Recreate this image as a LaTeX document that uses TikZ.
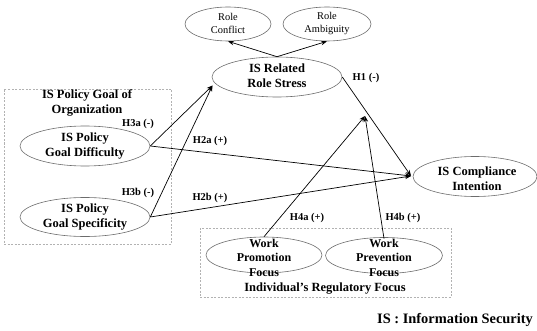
\documentclass[tikz,border=0pt]{standalone}
\usepackage{fontspec}
\setmainfont{Liberation Serif}
\usetikzlibrary{shapes.geometric,arrows.meta}
\begin{document}
\begin{tikzpicture}[x=1pt,y=-1pt,
  ell/.style={draw=gray!85!black,line width=0.6pt,ellipse,inner sep=0pt},
  txt/.style={align=center,inner sep=0pt,font=\fontsize{12.5}{15}\selectfont\bfseries},
  smalltxt/.style={align=center,inner sep=0pt,font=\fontsize{10.4}{12.7}\selectfont},
  lbl/.style={inner sep=0pt,font=\fontsize{10.5}{12}\selectfont\bfseries},
  arr/.style={-{Stealth[length=6pt,width=4.5pt]},line width=0.7pt},
  grp/.style={draw=gray!60,line width=0.6pt,dash pattern=on 2pt off 1.5pt}]
\useasboundingbox (0,0) rectangle (537,331);
% groups
\node[grp,minimum width=167pt,minimum height=155pt,inner sep=0pt] (g1) at (87.5,166.5) {};
\node[grp,minimum width=251pt,minimum height=69pt,inner sep=0pt] (g2) at (325.5,262.5) {};
\node[txt] (g1t) at (87,103) {IS Policy Goal of\\Organization};
\node[txt] (g2t) at (325,289) {Individual's Regulatory Focus};
% ellipses
\node[ell,minimum width=86pt,minimum height=34pt] (rc) at (228,24) {};
\node[smalltxt] (rct) at (228,23.5) {Role\\Conflict};
\node[ell,minimum width=88pt,minimum height=34pt] (ra) at (327,24) {};
\node[smalltxt] (rat) at (327,23.5) {Role\\Ambiguity};
\node[ell,minimum width=130pt,minimum height=40pt] (rs) at (277,77) {};
\node[txt] (rst) at (277,76) {IS Related\\Role Stress};
\node[ell,minimum width=130pt,minimum height=40pt] (gd) at (85,146) {};
\node[txt] (gdt) at (85,146) {IS Policy\\Goal Difficulty};
\node[ell,minimum width=130pt,minimum height=39pt] (gs) at (85,217) {};
\node[txt] (gst) at (85,217.5) {IS Policy\\Goal Specificity};
\node[ell,minimum width=124pt,minimum height=40pt] (ci) at (475,176.5) {};
\node[txt] (cit) at (477,178.5) {IS Compliance\\Intention};
\node[ell,minimum width=116pt,minimum height=36pt] (wp) at (264,255) {};
\node[txt,font=\fontsize{12}{14.5}\selectfont\bfseries] (wpt) at (264,257.5) {Work\\Promotion\\Focus};
\node[ell,minimum width=117pt,minimum height=36pt] (wv) at (384,255.5) {};
\node[txt,font=\fontsize{12}{14.5}\selectfont\bfseries] (wvt) at (384,257.5) {Work\\Prevention\\Focus};
\node[font=\fontsize{14.4}{16}\selectfont\bfseries,inner sep=0pt] (leg) at (455,320) {IS : Information Security};
% labels
\node[lbl] (l3a) at (138,124) {H3a (-)};
\node[lbl] (l2a) at (210,141) {H2a (+)};
\node[lbl] (l3b) at (138,193) {H3b (-)};
\node[lbl] (l2b) at (210,198) {H2b (+)};
\node[lbl] (l1) at (366,78) {H1 (-)};
\node[lbl] (l4a) at (307,218) {H4a (+)};
\node[lbl] (l4b) at (403,218) {H4b (+)};
% connectors
\coordinate (rsin) at (212.5,85.5);
\coordinate (ciin) at (411,176);
\coordinate (mod) at (365,116);
\draw[arr] (rs.north) -- (rc.south);
\draw[arr] (rs.north) -- (ra.south);
\draw[arr] (gd.east) -- (rsin);
\draw[arr] (gs.east) -- (rsin);
\draw[arr] (gd.east) -- (ciin);
\draw[arr] (gs.east) -- (ciin);
\draw[arr] (rs.east) -- (ciin);
\draw[arr] (wp.north) -- (mod);
\draw[arr] (wvt.north) -- (mod);
\end{tikzpicture}
\end{document}
